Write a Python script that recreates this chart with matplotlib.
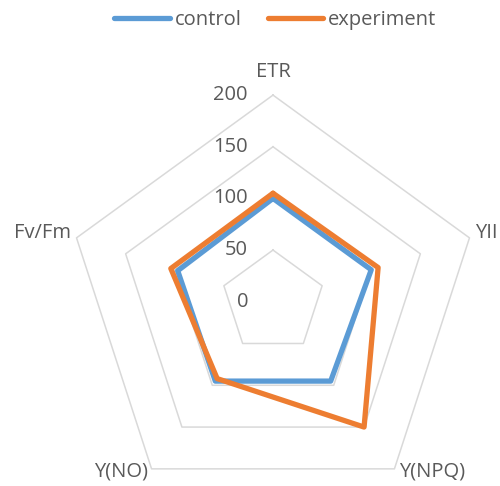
import numpy as np
import matplotlib.pyplot as plt

# Radar chart data
categories = ['ETR', 'YII', 'Y(NPQ)', 'Y(NO)', 'Fv/Fm']
control = [100, 100, 95, 95, 97]
experiment = [105, 107, 150, 92, 104]
rings = [50, 100, 150, 200]
ring_labels = ['0', '50', '100', '150', '200']

blue = '#5B9BD5'
orange = '#ED7D31'
grid_color = '#D9D9D9'
text_color = '#595959'

plt.rcParams['font.family'] = ['Open Sans', 'DejaVu Sans']
fs = 14.5

n = len(categories)
angles = np.linspace(0, 2 * np.pi, n, endpoint=False)
angles_closed = np.append(angles, angles[0])

fig = plt.figure(figsize=(5, 4.86), dpi=100)
ax = fig.add_axes([0.1328, -0.0459, 0.8264, 0.8502], projection='polar')
ax.set_theta_offset(np.pi / 2)
ax.set_theta_direction(-1)
ax.set_ylim(0, 200)
ax.grid(False)
ax.set_xticks([])
ax.set_yticks([])
ax.spines['polar'].set_visible(False)
ax.patch.set_visible(False)

# Pentagon gridlines
for r in rings:
    ax.plot(angles_closed, [r] * (n + 1), color=grid_color, lw=1.1,
            clip_on=False, zorder=1)

# Value labels along the top spoke
for i, lab in enumerate(ring_labels):
    ax.annotate(lab, xy=(0, i * 50), xytext=(-25, 0), textcoords='offset pixels',
                ha='right', va='center', fontsize=fs, color=text_color)

# Category labels
offsets = [(0, 23, 'center'), (6, 5, 'left'), (5, -3, 'left'),
           (-4, -3, 'right'), (-6, 5, 'right')]
for ang, cat, (dx, dy, ha) in zip(angles, categories, offsets):
    ax.annotate(cat, xy=(ang, 200), xytext=(dx, dy), textcoords='offset pixels',
                ha=ha, va='center', fontsize=fs, color=text_color,
                annotation_clip=False)

# Series
for vals, col, name in [(control, blue, 'control'), (experiment, orange, 'experiment')]:
    ax.plot(angles_closed, list(vals) + [vals[0]], color=col, lw=3.8, label=name,
            solid_joinstyle='round', solid_capstyle='round', clip_on=False, zorder=3)

leg = fig.legend(loc='center', bbox_to_anchor=(0.551, 1 - 20 / 486), ncol=2,
                 frameon=False, fontsize=fs, handlelength=2.75, handletextpad=0.25,
                 columnspacing=1.3)
for t in leg.get_texts():
    t.set_color(text_color)

plt.savefig('out.png', dpi=100)
